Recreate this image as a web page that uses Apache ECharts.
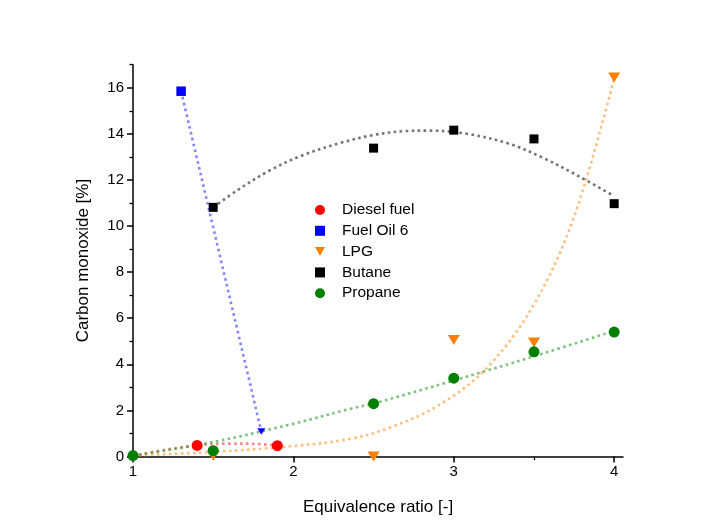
<!DOCTYPE html>
<html>
<head>
<meta charset="utf-8">
<script src="https://cdn.jsdelivr.net/npm/echarts@6/dist/echarts.min.js"></script>
<style>
  html, body { margin: 0; padding: 0; background: #ffffff; }
  #chart { width: 708px; height: 523px; }
</style>
</head>
<body>
<div id="chart"></div>
<script>
// Measured points, [equivalence ratio, CO %]
const dieselFuel = [[1.4, 0.48], [1.9, 0.47]];
const fuelOil6 = [[1.3, 15.85]];
const fuelOil6End = [[1.8, 1.08]];
const lpg = [[1.5, 0.05], [2.5, 0.0], [3.0, 5.05], [3.5, 4.95], [4.0, 16.45]];
const butane = [[1.5, 10.81], [2.5, 13.38], [3.0, 14.16], [3.5, 13.78], [4.0, 10.97]];
const propane = [[1.0, 0.04], [1.5, 0.25], [2.5, 2.29], [3.0, 3.4], [3.5, 4.54], [4.0, 5.4]];

// Trend curves (dotted)
const dieselTrend = [[1.0, 0.02], [1.2, 0.29], [1.4, 0.48], [1.6, 0.56], [1.75, 0.55], [1.9, 0.48]];
const fuelOil6Trend = [[1.3, 15.85], [1.8, 1.08]];
const lpgTrend = [[1.0, 0.04], [1.5, 0.2], [2.0, 0.45], [2.35, 0.76], [2.6, 1.25], [2.9, 2.2], [3.2, 3.8], [3.5, 6.6], [3.75, 10.4], [4.0, 16.4]];
const butaneTrend = [[1.5, 10.81], [1.65, 11.55], [1.85, 12.4], [2.05, 13.05], [2.3, 13.62], [2.5, 13.95], [2.7, 14.12], [2.85, 14.14], [3.1, 13.98], [3.35, 13.56], [3.55, 12.98], [3.75, 12.27], [4.0, 11.3]];
const propaneTrend = [[1.0, 0.04], [1.5, 0.63], [2.0, 1.42], [2.35, 2.06], [2.5, 2.3], [3.0, 3.3], [3.5, 4.35], [4.0, 5.45]];

// Axis ticks
const xTicks = [1, 2, 3, 4];
const xMinorTicks = [1.5, 2.5, 3.5];
const yTicks = [0, 2, 4, 6, 8, 10, 12, 14, 16];
const yMinorTicks = [1, 3, 5, 7, 9, 11, 13, 15, 17];

const FONT = 'Liberation Sans, Arial, sans-serif';
const downTri = 'path://M0,0L10,0L5,9Z';

const chart = echarts.init(document.getElementById('chart'), null, { renderer: 'canvas' });

function trend(data, color) {
  return {
    type: 'line', data: data, smooth: 0.35, showSymbol: false, symbol: 'none',
    silent: true, z: 1,
    lineStyle: { color: color, width: 2.6, type: [2.6, 3.4], cap: 'butt' }
  };
}

const baseX = {
  type: 'value', min: 1, max: 4.055, gridIndex: 0, position: 'bottom',
  splitLine: { show: false }
};
const baseY = {
  type: 'value', min: 0, max: 17, gridIndex: 0, position: 'left',
  splitLine: { show: false }
};

chart.setOption({
  backgroundColor: '#ffffff',
  animation: false,
  grid: { left: 133, right: 85, top: 64.7, bottom: 66.5, containLabel: false },
  legend: {
    left: 310, top: 197, orient: 'vertical',
    itemWidth: 10, itemHeight: 10, itemGap: 4.8,
    textStyle: { fontFamily: FONT, fontSize: 15.5, color: '#000', padding: [0, 0, 0, 12], lineHeight: 15 },
    data: [
      { name: 'Diesel fuel', icon: 'circle' },
      { name: 'Fuel Oil 6', icon: 'rect' },
      { name: 'LPG', icon: downTri },
      { name: 'Butane', icon: 'rect' },
      { name: 'Propane', icon: 'circle' }
    ]
  },
  xAxis: [
    Object.assign({}, baseX, {
      name: 'Equivalence ratio [-]', nameLocation: 'middle', nameGap: 42,
      nameTextStyle: { fontFamily: FONT, fontSize: 17, color: '#000' },
      axisLine: { show: true, lineStyle: { color: '#000', width: 1.5 } },
      axisTick: { show: true, length: 6, customValues: xTicks, lineStyle: { color: '#000', width: 1.5 } },
      axisLabel: { customValues: xTicks, fontFamily: FONT, fontSize: 15, color: '#000', margin: 8 }
    }),
    Object.assign({}, baseX, {
      axisLine: { show: false },
      axisTick: { show: true, length: 3.5, customValues: xMinorTicks, lineStyle: { color: '#000', width: 1.3 } },
      axisLabel: { show: false }
    })
  ],
  yAxis: [
    Object.assign({}, baseY, {
      name: 'Carbon monoxide [%]', nameLocation: 'middle', nameGap: 41,
      nameTextStyle: { fontFamily: FONT, fontSize: 17, color: '#000' },
      axisLine: { show: true, lineStyle: { color: '#000', width: 1.5 } },
      axisTick: { show: true, length: 6, customValues: yTicks, lineStyle: { color: '#000', width: 1.5 } },
      axisLabel: { customValues: yTicks, fontFamily: FONT, fontSize: 15, color: '#000', margin: 9 }
    }),
    Object.assign({}, baseY, {
      axisLine: { show: false },
      axisTick: { show: true, length: 3.5, customValues: yMinorTicks, lineStyle: { color: '#000', width: 1.3 } },
      axisLabel: { show: false }
    })
  ],
  series: [
    trend(dieselTrend, 'rgba(255,60,60,0.62)'),
    trend(fuelOil6Trend, 'rgba(80,80,255,0.7)'),
    trend(lpgTrend, 'rgba(255,150,50,0.62)'),
    trend(butaneTrend, 'rgba(70,70,70,0.75)'),
    trend(propaneTrend, 'rgba(40,150,40,0.6)'),
    {
      name: 'Diesel fuel', type: 'scatter', data: dieselFuel, z: 3,
      symbol: 'circle', symbolSize: 11, itemStyle: { color: '#ff0000', opacity: 1 }
    },
    {
      name: 'Fuel Oil 6', type: 'scatter', data: fuelOil6, z: 3,
      symbol: 'rect', symbolSize: 9.5, itemStyle: { color: '#0000ff', opacity: 1 }
    },
    {
      type: 'scatter', data: fuelOil6End, z: 3, silent: true,
      symbol: downTri, symbolSize: [8, 6.5], itemStyle: { color: '#0000ff', opacity: 1 }
    },
    {
      name: 'LPG', type: 'scatter', data: lpg, z: 3,
      symbol: downTri, symbolSize: [12, 10], itemStyle: { color: '#ff8000', opacity: 1 }
    },
    {
      name: 'Butane', type: 'scatter', data: butane, z: 3,
      symbol: 'rect', symbolSize: 9, itemStyle: { color: '#000000', opacity: 1 }
    },
    {
      name: 'Propane', type: 'scatter', data: propane, z: 3,
      symbol: 'circle', symbolSize: 11, itemStyle: { color: '#008000', opacity: 1 }
    }
  ]
});
</script>
</body>
</html>
